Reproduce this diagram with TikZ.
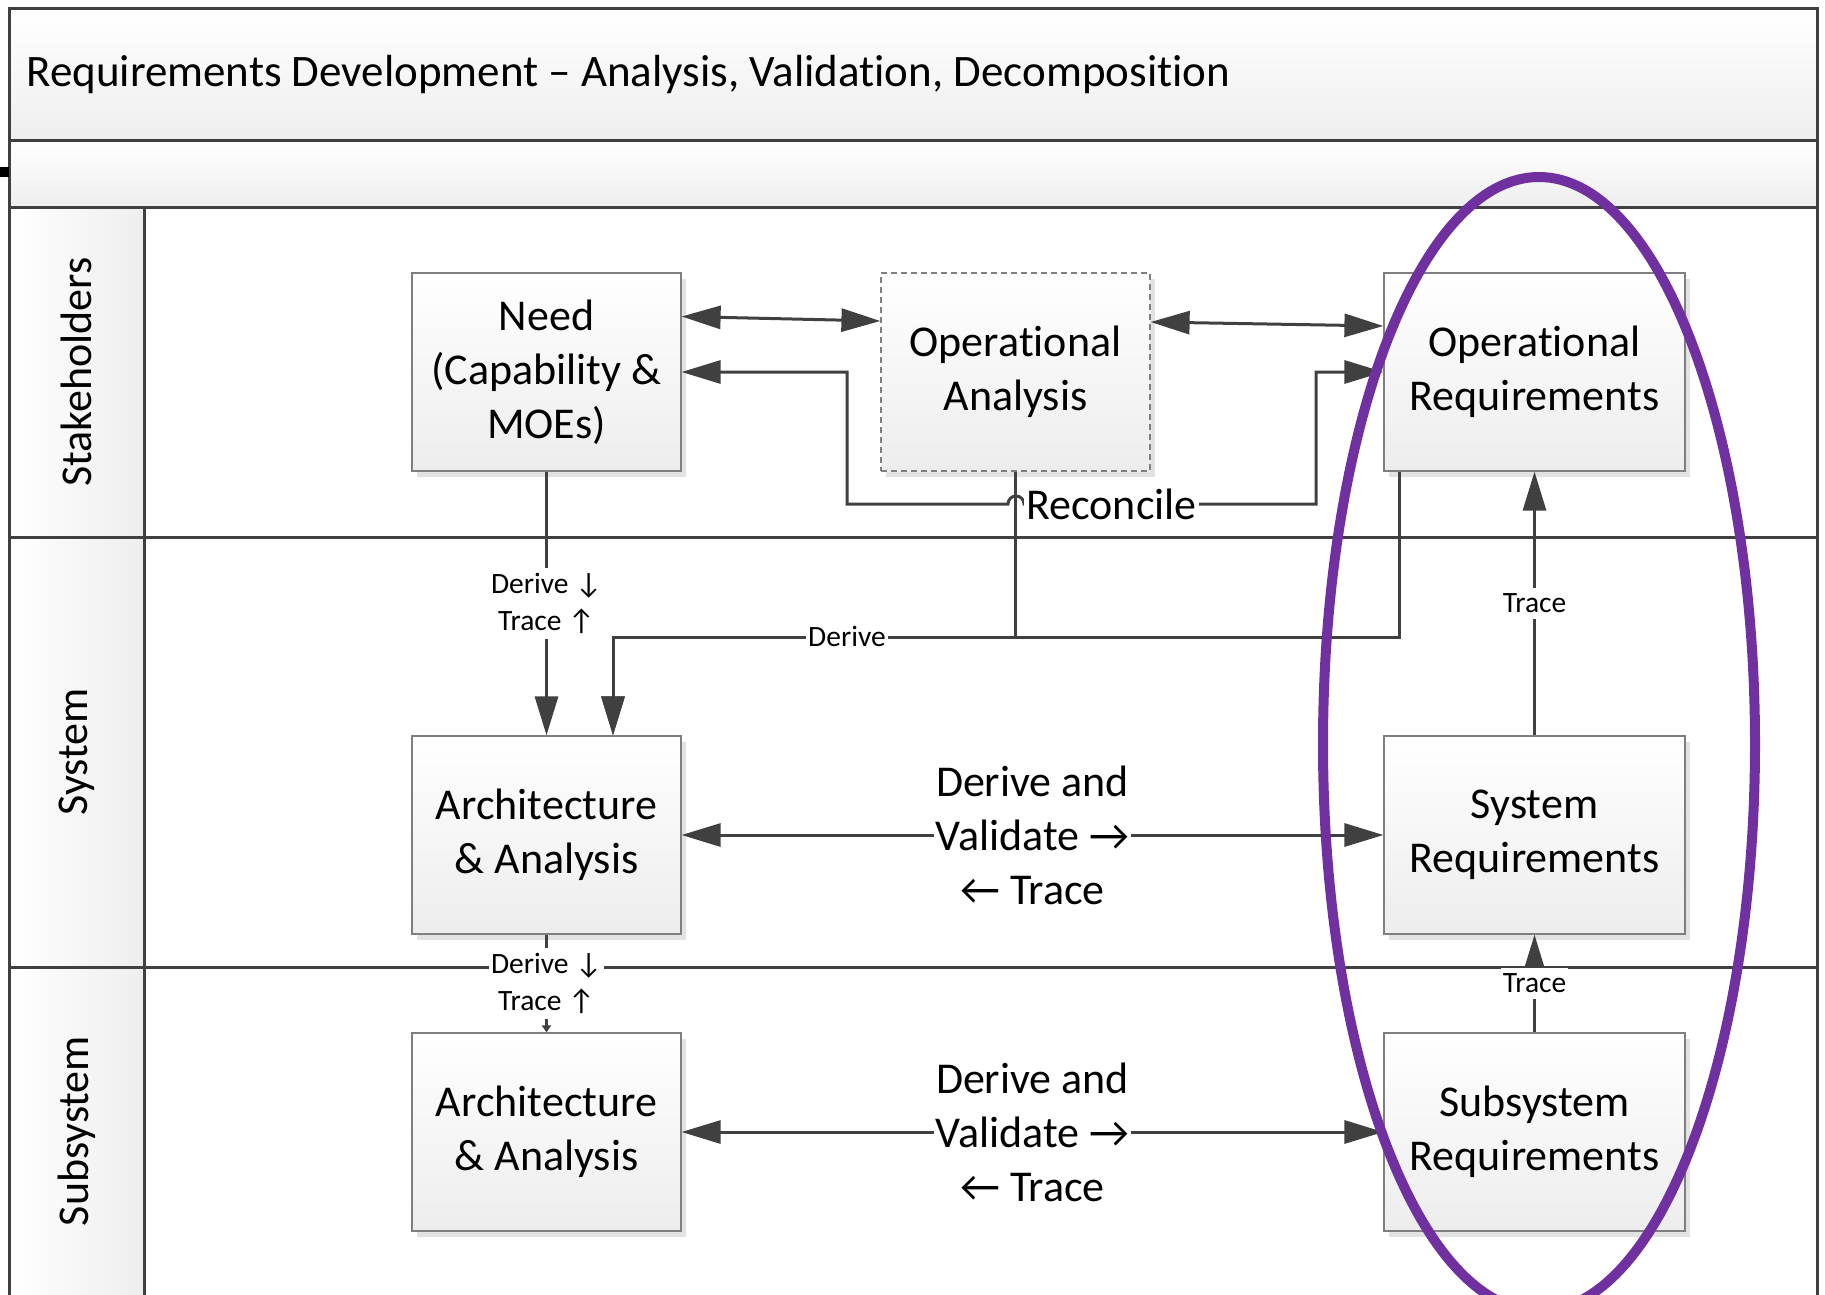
\documentclass[tikz,border=0pt]{standalone}
\usepackage{fontspec}
\setmainfont{Carlito}[RawFeature={-liga}]
\usetikzlibrary{arrows.meta,shadows,calc}
\definecolor{linegray}{HTML}{404040}
\definecolor{boxedge}{HTML}{7F7F7F}
\definecolor{boxbottom}{HTML}{EDEDED}
\definecolor{bandbottom}{HTML}{EEEEEE}
\definecolor{shadowgray}{HTML}{E2E2E2}
\definecolor{ovalpurple}{HTML}{7030A0}

\begin{document}
\begin{tikzpicture}[x=0.5pt,y=-0.5pt,
  bigfont/.style={font=\fontsize{22}{27}\selectfont},
  smallfont/.style={font=\fontsize{14.75}{18.5}\selectfont},
  frame/.style={draw=linegray, line width=1.5pt},
  procbox/.style={draw=boxedge, line width=0.6pt, top color=white, bottom color=boxbottom,
    minimum height=99pt, align=center, bigfont,
    general shadow={fill=shadowgray, shadow xshift=2.5pt, shadow yshift=-3pt}},
  dashedbox/.style={dash pattern=on 3pt off 2pt},
  narrowbox/.style={minimum width=134.5pt},
  widebox/.style={minimum width=150.5pt},
  conn/.style={draw=linegray, line width=1.5pt, >={Triangle[length=19.5pt,width=11.5pt]}},
  smalltip/.style={-{Triangle[length=3.5pt,width=4.5pt]}},
  smalllabel/.style={fill=white, smallfont, inner xsep=1pt, inner ysep=2.5pt},
  onelinelabel/.style={smalllabel, text height=1.0em, text depth=0.09em},
  biglabel/.style={fill=white, bigfont, inner xsep=1pt, inner ysep=1pt},
  lanelabel/.style={bigfont, rotate=90}
]
\useasboundingbox (0,0) rectangle (1825,1295);
\clip (0,0) rectangle (1825,1295);

% pool header and lane header column
\path[top color=white, bottom color=bandbottom] (9,9) rectangle (1817,141);
\path[top color=white, bottom color=bandbottom] (9,141) rectangle (1817,207);
\path[left color=white, right color=bandbottom] (9,207) rectangle (144,1310);
\draw[frame] (9,1310) -- (9,9) -- (1817,9) -- (1817,1310);
\draw[frame] (9,141) -- (1817,141);
\draw[frame] (9,207) -- (1817,207);
\draw[frame] (9,537) -- (1817,537);
\draw[frame] (9,967) -- (1817,967);
\draw[frame] (144,207) -- (144,1310);
\fill[black] (0,167) rectangle (9,177);

\node[anchor=west, inner sep=0pt, font=\fontsize{22.5}{27}\selectfont] (title) at (26,75)
  {Requirements Development – Analysis, Validation, Decomposition};
\node[lanelabel] (lane1) at (76.5,372) {Stakeholders};
\node[lanelabel] (lane2) at (76.5,752) {System};
\node[lanelabel] (lane3) at (76.5,1131) {Subsystem};

% process boxes
\node[procbox, narrowbox] (need) at (546.5,372) {Need\\(Capability \&\\MOEs)};
\node[procbox, narrowbox, dashedbox] (opan) at (1015.5,372) {Operational\\Analysis};
\node[procbox, widebox] (opreq) at (1534.5,372) {Operational\\Requirements};
\node[procbox, narrowbox] (arch1) at (546.5,835) {Architecture\\\& Analysis};
\node[procbox, widebox] (sysreq) at (1534.5,835) {System\\Requirements};
\node[procbox, narrowbox] (arch2) at (546.5,1132) {Architecture\\\& Analysis};
\node[procbox, widebox] (subreq) at (1534.5,1132) {Subsystem\\Requirements};

% stakeholder level exchanges
\draw[conn,<->] ($(need.east)+(0,-55.5)$) -- ($(opan.west)+(0,-51)$);
\draw[conn,<->] ($(opan.east)+(0,-50)$) -- ($(opreq.west)+(0,-46)$);
\draw[conn,<->] (need.east) -- (847,372) -- (847,504) -- (1008,504)
  arc[start angle=180, end angle=0, radius=4pt]
  -- node[pos=0.3, biglabel] (reconcile) {Reconcile} (1316,504) -- (1316,372) -- (opreq.west);

% derivation into the system architecture
\draw[conn,->] ($(opreq.south west)+(16,0)$) |- (613,637) -- ($(arch1.north)+(66.5,0)$);
\draw[conn,->] (opan.south) |- (613,637) -- ($(arch1.north)+(66.5,0)$);
\node[onelinelabel] (derive) at (847,637) {Derive};

\draw[conn,->] (need.south) -- node[smalllabel, align=center] (dt1) {Derive ↓\\Trace ↑} (arch1.north);
\draw[conn,smalltip] (arch1.south) -- node[smalllabel, align=center] (dt2) {Derive ↓\\Trace ↑} (arch2.north);

\draw[conn,<->] (arch1.east) -- node[biglabel, align=center] (dv1) {Derive and\\Validate →\\← Trace} (sysreq.west);
\draw[conn,<->] (arch2.east) -- node[biglabel, align=center] (dv2) {Derive and\\Validate →\\← Trace} (subreq.west);

\draw[conn,->] (sysreq.north) -- node[onelinelabel] (tr1) {Trace} (opreq.south);
\draw[conn,->] (subreq.north) -- node[onelinelabel] (tr2) {Trace} (sysreq.south);

% requirements column highlight
\draw[ovalpurple, line width=5pt] (1539,744) ellipse [x radius=108pt, y radius=283.5pt];
\end{tikzpicture}
\end{document}
